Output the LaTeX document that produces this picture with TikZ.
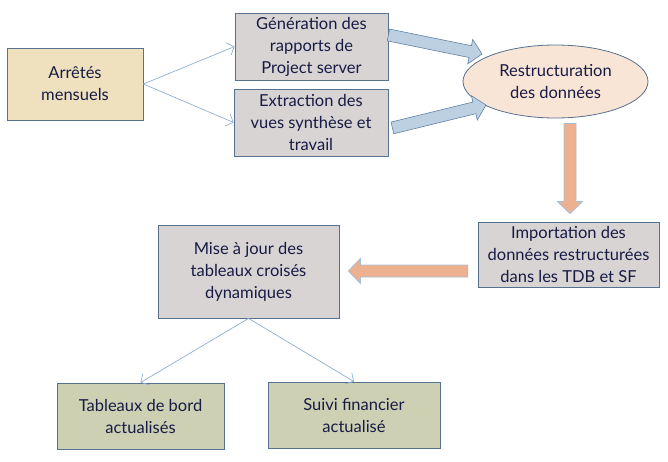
\documentclass[tikz,border=0pt]{standalone}
\usepackage{fontspec}
\setmainfont{Lato}
\usetikzlibrary{calc}
\usetikzlibrary{positioning, shapes, arrows.meta}

\definecolor{bordure}{HTML}{56708F}
\definecolor{gris}{HTML}{D8D4D3}
\definecolor{beige}{HTML}{F0E1BE}
\definecolor{vert}{HTML}{CDD0B3}
\definecolor{saumon}{HTML}{F9E5D6}
\definecolor{bleuclair}{HTML}{8DB0D4}
\definecolor{bleufleche}{HTML}{BCD0E2}
\definecolor{bordfleche}{HTML}{6283A4}
\definecolor{orange}{HTML}{EDB18F}
\definecolor{bordorange}{HTML}{A6C0DA}
\definecolor{texte}{HTML}{171B45}

\tikzset{
  boite/.style={draw=bordure, fill=gris, line width=0.8pt, align=center,
    text=texte, inner sep=0pt, font=\fontsize{16.5}{22}\selectfont},
  lien/.style={draw=bleuclair, line width=0.7pt,
    -{Straight Barb[length=6pt,width=13pt]}},
  flechebleue/.style={fill=bleufleche, draw=bordfleche, line width=0.6pt},
  flecheorange/.style={fill=orange, draw=bordorange, line width=0.8pt}
}

% grosse fleche : style, depart, arrivee
\newcommand{\grossefleche}[3]{%
  \coordinate (base) at ($(#3)!12pt!(#2)$);
  \path[#1] ($(#2)!6pt!90:(#3)$) -- ($(base)!6pt!90:(#3)$)
    -- ($(base)!12.5pt!90:(#3)$) -- (#3) -- ($(base)!12.5pt!-90:(#3)$)
    -- ($(base)!6pt!-90:(#3)$) -- ($(#2)!6pt!-90:(#3)$) -- cycle;
}

\begin{document}
\begin{tikzpicture}[x=1pt, y=-1pt]
\useasboundingbox (0,0) rectangle (668,461);

\node [boite, fill=beige, minimum width=136pt, minimum height=72pt] (arretes) at (75,84)
        {Arrêtés\\mensuels};
\node [boite, minimum width=153pt, minimum height=67pt] (generation) at (311.5,46.5)
        {Génération des\\rapports de\\Project server};
\node [boite, minimum width=154pt, minimum height=67pt] (extraction) at (311,122.5)
        {Extraction des\\vues synthèse et\\travail};
\node [boite, ellipse, fill=saumon, minimum width=185pt, minimum height=73pt] (restructuration) at (555.5,81.5)
        {Restructuration\\des données};
\node [boite, minimum width=181pt, minimum height=65pt] (importation) at (568.5,254.5)
        {Importation des\\données restructurées\\dans les TDB et SF};
\node [boite, minimum width=181pt, minimum height=93pt] (miseajour) at (248.5,271.5)
        {Mise à jour des\\tableaux croisés\\dynamiques};
\node [boite, fill=vert, minimum width=167pt, minimum height=66pt] (tableaux) at (140.5,416)
        {Tableaux de bord\\actualisés};
\node [boite, fill=vert, minimum width=172pt, minimum height=66pt] (suivi) at (354,415)
        {Suivi financier\\actualisé};

\draw [lien] (arretes.east) -- (generation.west);
\draw [lien] (arretes.east) -- (extraction.west);
\draw [lien] (miseajour.south) -- (tableaux.north);
\draw [lien] (miseajour.south) -- (suivi.north);

% grosses fleches
\coordinate (g1) at ($(generation.north east)!0.33!(generation.south east)$);
\coordinate (r1) at (482,54);
\coordinate (e1) at ($(extraction.north east)!0.58!(extraction.south east)+(4,0)$);
\coordinate (r2) at (486,105);
\coordinate (r3) at ($(restructuration.south)+(14.5,5)$);
\coordinate (i1) at ($(importation.north)+(1.5,-8)$);
\coordinate (i2) at ($(importation.west)+(-10,16.5)$);
\coordinate (m1) at ($(miseajour.east)+(9,-0.5)$);
\grossefleche{flechebleue}{g1}{r1}
\grossefleche{flechebleue}{e1}{r2}
\grossefleche{flecheorange}{r3}{i1}
\grossefleche{flecheorange}{i2}{m1}
\end{tikzpicture}
\end{document}
